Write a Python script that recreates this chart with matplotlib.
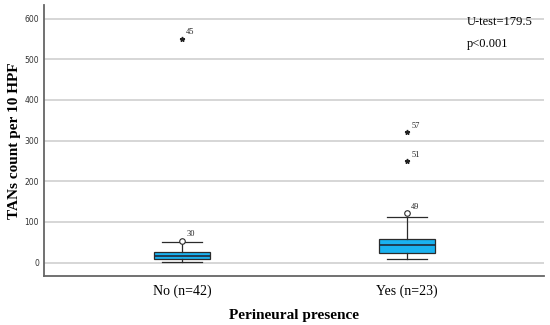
import numpy as np
import matplotlib.pyplot as plt

# box stats
groups = ["No (n=42)", "Yes (n=23)"]
whislo = [2, 8]
q1 = [8, 23]
med = [16, 43]
q3 = [25, 58]
whishi = [50, 113]

# outliers: (group index, value, case label)
circle_out = [(0, 54, "30"), (1, 122, "49")]
star_out = [(0, 551, "45"), (1, 250, "51"), (1, 321, "57")]

yticks = [0, 100, 200, 300, 400, 500, 600]

serif = "Liberation Serif"

fig = plt.figure(figsize=(5.5, 3.25), dpi=100)
ax = fig.add_axes([0.08, 0.151, 0.909, 0.834])

stats = []
for i in range(len(groups)):
    stats.append(dict(whislo=whislo[i], q1=q1[i], med=med[i], q3=q3[i],
                      whishi=whishi[i], fliers=[]))

ax.bxp(stats, positions=[0, 1], widths=0.25, patch_artist=True,
       showfliers=False,
       boxprops=dict(facecolor="#1ab2f0", edgecolor="#2b2b2b", linewidth=0.9),
       medianprops=dict(color="#1f2a3a", linewidth=1.2),
       whiskerprops=dict(color="#2b2b2b", linewidth=0.9),
       capprops=dict(color="#2b2b2b", linewidth=0.9),
       capwidths=0.18)

for g, v, lab in circle_out:
    ax.plot(g, v, "o", mfc="white", mec="#2b2b2b", ms=4, mew=0.8, zorder=4)
    ax.annotate(lab, (g, v), xytext=(3, 3), textcoords="offset points",
                fontsize=6, family=serif, color="#222222")
for g, v, lab in star_out:
    ax.plot(g, v, marker="*", color="#222222", ms=3.5, ls="none", zorder=4)
    ax.annotate(lab, (g, v), xytext=(3, 3), textcoords="offset points",
                fontsize=6, family=serif, color="#222222")

ax.set_xlim(-0.613, 1.609)
ax.set_ylim(-33, 634)
ax.set_yticks(yticks)
ax.set_xticks([0, 1])
ax.set_xticklabels(groups, family=serif, fontsize=10)
ax.tick_params(axis="y", labelsize=5.5, length=0, pad=3.5, colors="#333333")
ax.tick_params(axis="x", length=0, pad=6)
ax.yaxis.grid(True, color="#d0d0d0", linewidth=1.2)
ax.set_axisbelow(True)

for s in ["top", "right"]:
    ax.spines[s].set_visible(False)
for s in ["left", "bottom"]:
    ax.spines[s].set_color("#666666")
    ax.spines[s].set_linewidth(1.3)

ax.set_ylabel("TANs count per 10 HPF", family=serif, fontsize=11,
              fontweight="bold")
ax.yaxis.set_label_coords(-0.046, 0.5)
ax.set_xlabel("Perineural presence", family=serif, fontsize=11,
              fontweight="bold", labelpad=8)

ax.text(0.845, 0.926, "U-test=179.5", transform=ax.transAxes,
        family=serif, fontsize=9, va="baseline", ha="left")
ax.text(0.845, 0.845, "p<0.001", transform=ax.transAxes,
        family=serif, fontsize=9, va="baseline", ha="left")

fig.savefig("out.png", dpi=100)
